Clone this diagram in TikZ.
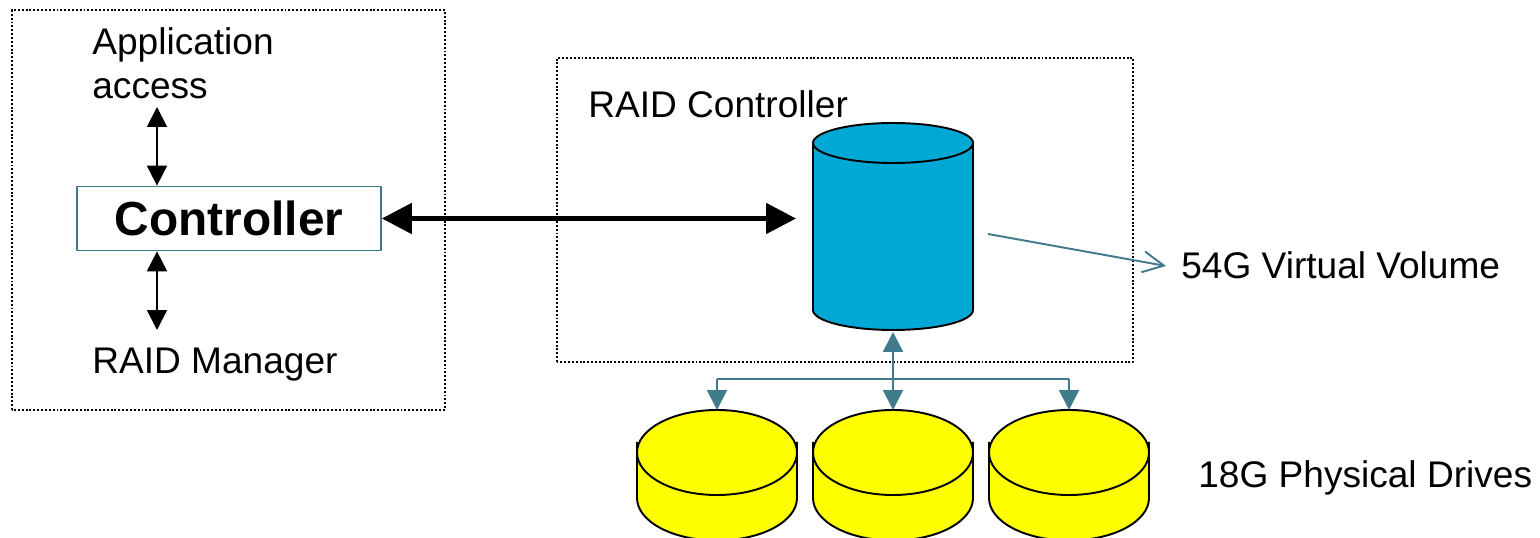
\documentclass[tikz,border=0pt]{standalone}
\usepackage{fontspec}
\setmainfont{Liberation Sans}
\usetikzlibrary{arrows.meta}
\definecolor{tealline}{HTML}{3F7B8A}
\definecolor{volblue}{HTML}{00A8D6}
\definecolor{diskyellow}{HTML}{FFFF00}
\begin{document}
\begin{tikzpicture}[x=0.02cm,y=0.02cm,line join=bevel,
    frame/.style={line width=1.1pt,dash pattern=on 1.1pt off 1.1pt},
    label/.style={anchor=base west,inner sep=0pt,font=\fontsize{21.1}{25.5}\selectfont},
    ctrlbox/.style={draw=tealline,line width=1pt,fill=white,inner sep=0pt,minimum width=6.08cm,minimum height=1.28cm,
      font=\fontsize{27.2}{27.2}\selectfont\bfseries},
    small/.style={line width=1.1pt,<->,>={Triangle[length=0.4cm,width=0.4cm]}},
    thickarrow/.style={line width=2.9pt,<->,>={Triangle[length=0.6cm,width=0.6cm]}},
    bus/.style={line width=1.1pt,draw=tealline},
    busarrow/.style={bus,-{Triangle[length=0.4cm,width=0.4cm]},tealline},
    solid/.style={draw=black,line width=1.1pt}]
  \clip (0,0) rectangle (1540,537);

  \coordinate (acc) at (157,430);
  \coordinate (mgr) at (157,207);
  \coordinate (voll) at (796,318.5);
  \coordinate (vtop) at (893,374);
  \coordinate (vbot) at (893,205);
  \coordinate (va) at (988,303);
  \coordinate (vb) at (1166,271);

  \coordinate (d1) at (717,84.5);
  \coordinate (d2) at (893,84.5);
  \coordinate (d3) at (1069,84.5);
  \coordinate (t1) at (717,127);
  \coordinate (t2) at (893,127);
  \coordinate (t3) at (1069,127);
  \coordinate (b1) at (717,158);
  \coordinate (b3) at (1069,158);

  % frames
  \draw[frame] (12,127) rectangle (445,527);
  \draw[frame] (557,175) rectangle (1133,479);

  % volume
  \draw[solid,fill=volblue] (813,394) -- (813,227) arc[start angle=180,end angle=360,x radius=80,y radius=20] -- (973,394);
  \draw[solid,fill=volblue] (vtop) ++(0,20) circle[x radius=80,y radius=20];

  % drives
  \draw[solid,fill=diskyellow] (637,95) -- (637,39) arc[start angle=180,end angle=360,x radius=80,y radius=42.5] -- (797,95);
  \draw[solid,fill=diskyellow] (d1) circle[x radius=80,y radius=42.5];
  \draw[solid,fill=diskyellow] (813,95) -- (813,39) arc[start angle=180,end angle=360,x radius=80,y radius=42.5] -- (973,95);
  \draw[solid,fill=diskyellow] (d2) circle[x radius=80,y radius=42.5];
  \draw[solid,fill=diskyellow] (989,95) -- (989,39) arc[start angle=180,end angle=360,x radius=80,y radius=42.5] -- (1149,95);
  \draw[solid,fill=diskyellow] (d3) circle[x radius=80,y radius=42.5];

  \node[ctrlbox] (ctrl) at (229,318.5) {\raisebox{-2pt}{Controller}};

  \draw[small] (acc) -- (ctrl.north -| acc);
  \draw[small] (mgr) -- (ctrl.south -| mgr);
  \draw[thickarrow] (ctrl.east) -- (voll);

  \draw[bus] (b1) -- (b3);
  \draw[busarrow] (b1) -- (t1);
  \draw[busarrow] (b3) -- (t3);
  \draw[bus,<->,>={Triangle[length=0.4cm,width=0.4cm]},tealline] (vbot) -- (t2);
  \draw[line width=1.1pt,tealline,->,>={Straight Barb[length=0.42cm,width=0.42cm]}] (va) -- (vb);

  \node[label,align=left] (app) at (92,438) {Application\\access};
  \node[label] (raidmgr) at (92,163) {RAID Manager};
  \node[label] (raidctrl) at (588,419) {RAID Controller};
  \node[label] (virt) at (1181,258) {54G Virtual Volume};
  \node[label] (phys) at (1198,50) {18G Physical Drives};
\end{tikzpicture}
\end{document}
